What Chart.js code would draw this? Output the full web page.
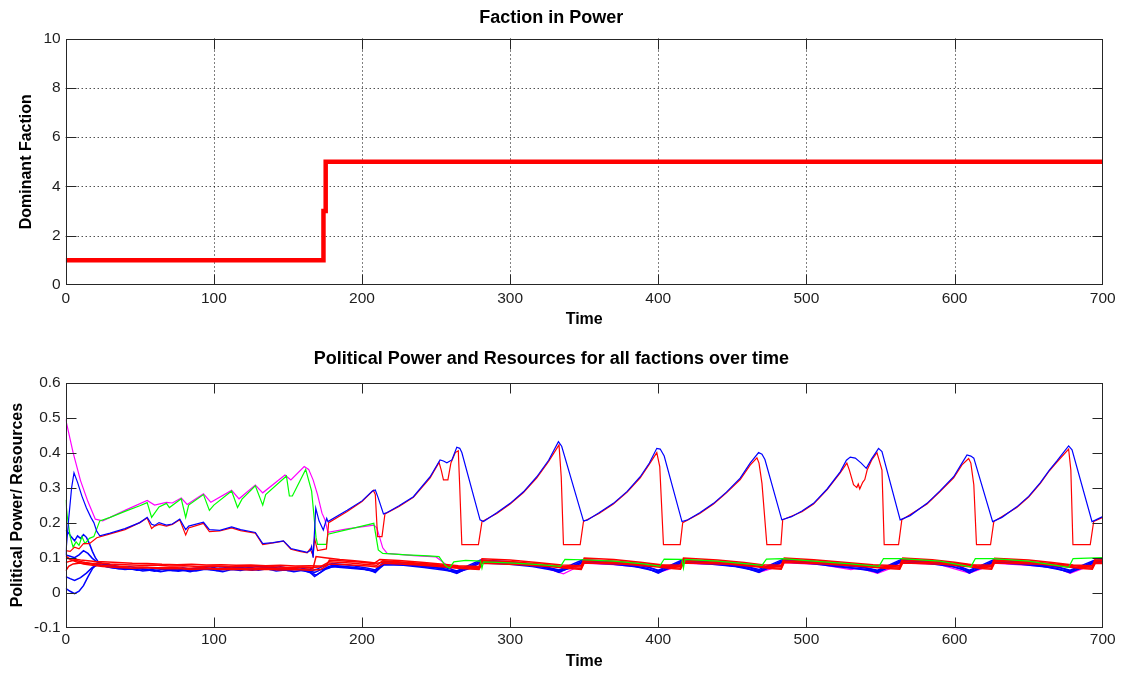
<!DOCTYPE html>
<html>
<head>
<meta charset="utf-8">
<script src="https://cdn.jsdelivr.net/npm/chart.js@4"></script>
<style>
  html, body { margin: 0; padding: 0; background: #fff; }
  body { width: 1123px; height: 675px; position: relative; overflow: hidden; }
  .panel { position: absolute; left: 0; }
</style>
</head>
<body>
<div class="panel" style="top:0"><canvas id="cpower" width="1123" height="340"></canvas></div>
<div class="panel" style="top:340px"><canvas id="cres" width="1123" height="335"></canvas></div>
<script>
// Faction in power over time, [time, faction]
const dominantFaction = [[0, 1], [174, 1], [174, 3], [175.5, 3], [175.5, 5], [700, 5]];

const timeTicks = [0, 100, 200, 300, 400, 500, 600, 700];
const factionTicks = [0, 2, 4, 6, 8, 10];
const resourceTicks = [-0.1, 0, 0.1, 0.2, 0.3, 0.4, 0.5, 0.6];

// Political power / resources per faction, [time, value]
const blueTop = [[0,0.108],[2,0.21],[4,0.3],[5.6,0.342],[8,0.315],[11,0.275],[14,0.242],[17,0.215],[19,0.2],[21,0.175],[23,0.162],[30,0.17],[40,0.183],[50,0.2],[55,0.215],[58,0.195],[60,0.192],[63,0.2],[68,0.193],[72,0.196],[77,0.21],[81,0.18],[83,0.19],[93,0.201],[97,0.18],[104,0.178],[112,0.188],[118,0.18],[128,0.172],[133,0.14],[140,0.143],[147,0.148],[152,0.126],[158,0.12],[163,0.115],[165,0.12],[166,0.132],[167,0.1],[168.8,0.241],[171,0.205],[173.9,0.179],[176.2,0.212],[177,0.203],[190,0.235],[200,0.262],[207,0.29],[209,0.293],[211,0.27],[214.5,0.225],[217,0.229],[225,0.248],[234.7,0.274],[246,0.331],[252.7,0.379],[255,0.376],[257.3,0.371],[260.7,0.379],[264,0.415],[266,0.412],[267.4,0.4],[279.7,0.208],[282,0.203],[291,0.228],[300,0.255],[309,0.288],[318,0.331],[326,0.378],[332.6,0.431],[334.8,0.418],[349.5,0.205],[352,0.207],[360,0.228],[369.7,0.255],[379,0.289],[387.8,0.331],[394,0.37],[399,0.412],[401.3,0.41],[404,0.39],[416,0.203],[420,0.208],[428,0.228],[437.3,0.255],[446,0.287],[455.3,0.327],[462,0.37],[467.7,0.4],[470,0.395],[472,0.38],[483.4,0.208],[490,0.217],[497,0.233],[504.8,0.255],[514,0.296],[522.8,0.345],[527,0.378],[529.6,0.387],[533,0.384],[537,0.37],[540.4,0.355],[544,0.382],[548.7,0.412],[551,0.403],[563.3,0.208],[570,0.22],[581.4,0.255],[590,0.29],[599.4,0.331],[605,0.37],[608.4,0.393],[611,0.39],[613,0.384],[625.7,0.203],[632,0.215],[642,0.245],[650,0.275],[657.9,0.314],[664,0.35],[669.1,0.376],[677,0.419],[679.3,0.408],[692.8,0.203],[695,0.207],[700,0.217]];

const redTop = [[0,0.12],[3,0.118],[6,0.13],[9,0.125],[12,0.14],[16,0.14],[21,0.157],[30,0.168],[40,0.18],[50,0.2],[55,0.213],[58,0.183],[60,0.19],[63,0.195],[68,0.19],[72,0.195],[77,0.208],[81,0.165],[83,0.185],[93,0.198],[97,0.174],[104,0.176],[112,0.185],[118,0.177],[128,0.17],[133,0.137],[140,0.142],[147,0.147],[152,0.124],[158,0.118],[163,0.114],[165,0.125],[167,0.105],[168,0.155],[170,0.12],[176,0.125],[177.5,0.2],[190,0.232],[200,0.26],[207.7,0.292],[209,0.28],[210.5,0.16],[213.5,0.16],[215.5,0.225],[225,0.246],[234.7,0.272],[246,0.328],[252,0.372],[253.5,0.35],[255,0.322],[258,0.322],[260,0.37],[263,0.4],[265,0.405],[266,0.3],[267.4,0.137],[278.6,0.137],[281,0.203],[291,0.226],[300,0.253],[309,0.286],[318,0.328],[326,0.375],[333,0.422],[334.5,0.33],[336,0.137],[347.3,0.137],[349.5,0.203],[360,0.226],[369.7,0.253],[379,0.287],[387.8,0.328],[394,0.367],[399,0.4],[401,0.36],[403.5,0.137],[414.8,0.137],[416.5,0.2],[428,0.226],[437.3,0.253],[446,0.285],[455.3,0.323],[462,0.364],[466.6,0.385],[468,0.37],[470,0.312],[473.3,0.137],[482.8,0.137],[484,0.208],[497,0.231],[504.8,0.253],[514,0.294],[522.8,0.342],[527.3,0.37],[529,0.35],[531.8,0.308],[534,0.3],[535,0.31],[536,0.296],[538,0.315],[539.4,0.323],[541,0.35],[544,0.378],[547.6,0.4],[549,0.38],[551,0.35],[552.5,0.137],[562.2,0.137],[564.4,0.208],[581.4,0.253],[590,0.288],[599.4,0.328],[605,0.365],[609.5,0.383],[611,0.37],[613,0.308],[614.8,0.137],[624.3,0.137],[626.5,0.203],[642,0.243],[650,0.273],[657.9,0.312],[664,0.348],[669.1,0.373],[677,0.41],[678.5,0.35],[679.9,0.137],[691.6,0.137],[693.9,0.203],[700,0.215]];

const greenLine = [[0,0.265],[1,0.22],[3,0.16],[5,0.13],[7,0.145],[9,0.135],[11,0.16],[13,0.14],[16,0.155],[19,0.16],[23,0.205],[30,0.215],[40,0.232],[50,0.248],[55,0.257],[58,0.215],[63,0.245],[68,0.255],[70,0.243],[78,0.268],[81,0.215],[83,0.25],[93,0.28],[97,0.235],[100,0.25],[112,0.29],[116,0.243],[119,0.267],[128,0.305],[133,0.25],[135,0.28],[149,0.333],[151,0.276],[153,0.276],[162,0.352],[166,0.29],[169,0.157],[170,0.138],[176,0.138],[177,0.167],[190,0.18],[200,0.19],[208,0.198],[211,0.122],[214,0.112],[230,0.108],[245,0.105],[252,0.103],[256,0.079],[259,0.07],[262,0.088],[270,0.092],[280,0.09],[281,0.07],[282,0.088],[300,0.085],[320,0.08],[334,0.075],[337,0.095],[349,0.094],[370,0.09],[390,0.082],[401,0.076],[404,0.096],[416,0.095],[417,0.07],[418,0.095],[440,0.09],[460,0.082],[470,0.078],[473,0.096],[484,0.097],[505,0.09],[530,0.082],[549,0.075],[552,0.097],[564,0.097],[590,0.09],[611,0.074],[614,0.097],[626,0.097],[650,0.09],[677,0.072],[680,0.097],[700,0.1]];

const magentaLine = [[0,0.495],[5,0.4],[10,0.32],[15,0.26],[20,0.21],[25,0.205],[40,0.235],[55,0.263],[60,0.25],[68,0.258],[72,0.256],[78,0.27],[82,0.252],[93,0.282],[98,0.258],[112,0.292],[117,0.268],[128,0.307],[133,0.285],[148,0.336],[152,0.322],[161,0.36],[164,0.352],[167,0.322],[170,0.28],[173,0.227],[175,0.208],[177,0.172],[190,0.182],[208,0.193],[210,0.185],[214,0.128],[217,0.112],[235,0.106],[250,0.102],[256,0.083],[262,0.062],[264,0.056],[272,0.07],[280,0.086],[300,0.082],[320,0.075],[333,0.058],[336,0.054],[342,0.066],[349,0.084],[370,0.08],[390,0.072],[400,0.057],[408,0.068],[416,0.084],[440,0.08],[460,0.072],[468,0.058],[476,0.068],[484,0.086],[510,0.08],[530,0.066],[536,0.07],[548,0.055],[556,0.068],[564,0.086],[590,0.08],[610,0.056],[618,0.068],[626,0.084],[650,0.078],[668,0.072],[678,0.055],[686,0.068],[694,0.083],[700,0.085]];

const redLow1 = [[0,0.098],[5,0.096],[10,0.093],[15,0.091],[20,0.089],[25,0.088],[35,0.086],[45,0.084],[55,0.083],[65,0.081],[75,0.08],[85,0.081],[95,0.079],[105,0.08],[115,0.078],[125,0.079],[135,0.077],[145,0.078],[155,0.076],[165,0.077],[170,0.076],[176,0.077],[178,0.093],[190,0.09],[200,0.087],[208,0.083],[212,0.095],[225,0.092],[240,0.087],[255,0.081],[265,0.077],[279,0.075],[281,0.097],[300,0.093],[318,0.086],[335,0.079],[348,0.077],[350,0.099],[370,0.095],[388,0.087],[402,0.08],[415,0.078],[417,0.099],[440,0.093],[458,0.086],[470,0.08],[483,0.078],[485,0.099],[505,0.094],[525,0.087],[545,0.08],[563,0.077],[565,0.099],[585,0.094],[600,0.087],[612,0.08],[625,0.078],[627,0.098],[650,0.093],[666,0.086],[680,0.079],[693,0.077],[695,0.097],[700,0.096]];

const redLow2 = [[0,0.086],[3,0.09],[6,0.093],[9,0.09],[13,0.086],[18,0.083],[24,0.085],[30,0.082],[40,0.08],[50,0.078],[60,0.079],[70,0.076],[80,0.077],[90,0.075],[100,0.076],[110,0.074],[120,0.075],[130,0.073],[140,0.074],[150,0.072],[160,0.073],[166,0.071],[172,0.074],[178,0.088],[192,0.085],[205,0.08],[210,0.078],[214,0.091],[230,0.087],[248,0.081],[262,0.075],[279,0.071],[281,0.092],[302,0.088],[322,0.081],[336,0.075],[348,0.073],[350,0.094],[372,0.09],[392,0.082],[405,0.077],[415,0.074],[417,0.094],[442,0.089],[462,0.081],[472,0.076],[483,0.074],[485,0.095],[508,0.09],[530,0.082],[550,0.076],[563,0.073],[565,0.094],[588,0.089],[605,0.082],[615,0.077],[625,0.074],[627,0.093],[652,0.088],[670,0.081],[683,0.076],[693,0.073],[695,0.092],[700,0.091]];

const redLow3 = [[0,0.062],[2,0.075],[5,0.082],[10,0.085],[15,0.084],[20,0.08],[26,0.078],[34,0.076],[42,0.074],[52,0.073],[62,0.071],[72,0.072],[82,0.07],[92,0.071],[102,0.069],[112,0.07],[122,0.068],[132,0.07],[142,0.068],[152,0.069],[160,0.067],[165,0.068],[167,0.07],[169,0.103],[175,0.1],[185,0.095],[195,0.091],[205,0.087],[210,0.084],[216,0.088],[232,0.084],[250,0.078],[263,0.072],[279,0.068],[281,0.088],[305,0.084],[325,0.077],[338,0.072],[348,0.069],[350,0.089],[375,0.085],[395,0.078],[407,0.073],[415,0.07],[417,0.089],[445,0.085],[465,0.077],[474,0.072],[483,0.07],[485,0.09],[510,0.086],[535,0.078],[552,0.072],[563,0.07],[565,0.089],[590,0.085],[608,0.078],[617,0.073],[625,0.07],[627,0.089],[655,0.085],[673,0.077],[685,0.072],[693,0.07],[695,0.088],[700,0.087]];

const redLow4 = [[0,0.105],[3,0.095],[7,0.088],[12,0.082],[18,0.078],[25,0.075],[35,0.072],[45,0.07],[55,0.071],[65,0.068],[75,0.069],[85,0.066],[95,0.068],[105,0.066],[115,0.067],[125,0.065],[135,0.067],[145,0.065],[155,0.066],[165,0.064],[172,0.066],[178,0.082],[190,0.08],[204,0.076],[210,0.073],[215,0.084],[235,0.08],[252,0.075],[265,0.07],[279,0.066],[281,0.084],[308,0.08],[328,0.074],[340,0.069],[348,0.066],[350,0.085],[378,0.081],[398,0.074],[409,0.069],[415,0.067],[417,0.085],[448,0.081],[466,0.074],[476,0.069],[483,0.067],[485,0.086],[512,0.082],[538,0.075],[555,0.069],[563,0.067],[565,0.085],[592,0.081],[610,0.074],[618,0.069],[625,0.067],[627,0.085],[658,0.081],[675,0.074],[686,0.069],[693,0.067],[695,0.084],[700,0.083]];

const blueLow1 = [[0,0.012],[3,0.004],[6,-0.003],[9,0.004],[12,0.02],[15,0.045],[18,0.068],[21,0.082],[24,0.078],[30,0.072],[36,0.068],[42,0.07],[48,0.064],[54,0.066],[60,0.061],[66,0.067],[72,0.063],[78,0.065],[84,0.06],[90,0.066],[96,0.069],[102,0.063],[108,0.066],[114,0.072],[120,0.067],[126,0.064],[132,0.07],[138,0.066],[144,0.068],[150,0.063],[156,0.066],[162,0.061],[166,0.056],[169,0.05],[172,0.058],[176,0.072],[180,0.078],[190,0.074],[200,0.068],[206,0.063],[209,0.057],[215,0.084],[225,0.082],[240,0.076],[255,0.068],[264,0.055],[272,0.072],[280,0.09],[295,0.086],[310,0.08],[325,0.072],[333,0.058],[341,0.073],[349,0.09],[365,0.086],[380,0.078],[392,0.07],[400,0.056],[408,0.073],[416,0.09],[430,0.086],[445,0.08],[458,0.072],[468,0.058],[476,0.075],[484,0.092],[500,0.087],[515,0.08],[528,0.072],[535,0.068],[542,0.066],[548,0.057],[556,0.075],[564,0.092],[580,0.087],[595,0.078],[605,0.068],[610,0.056],[618,0.073],[626,0.09],[640,0.085],[655,0.078],[668,0.07],[678,0.057],[686,0.073],[694,0.089],[700,0.091]];

const blueLow2 = [[0,0.046],[3,0.04],[6,0.035],[10,0.043],[14,0.056],[18,0.072],[22,0.08],[28,0.074],[34,0.07],[40,0.066],[46,0.068],[52,0.062],[58,0.065],[64,0.06],[70,0.064],[76,0.061],[82,0.065],[88,0.062],[94,0.067],[100,0.064],[106,0.06],[112,0.066],[118,0.063],[124,0.068],[130,0.064],[136,0.068],[142,0.062],[148,0.065],[154,0.06],[160,0.064],[165,0.058],[168,0.046],[171,0.055],[175,0.066],[180,0.074],[192,0.07],[202,0.066],[209,0.06],[215,0.08],[228,0.078],[242,0.072],[256,0.064],[264,0.058],[272,0.068],[280,0.085],[298,0.082],[315,0.075],[333,0.061],[341,0.07],[349,0.086],[368,0.082],[385,0.074],[400,0.06],[408,0.07],[416,0.086],[435,0.082],[452,0.075],[468,0.061],[476,0.072],[484,0.088],[503,0.083],[520,0.075],[532,0.07],[548,0.06],[556,0.072],[564,0.088],[583,0.083],[598,0.075],[610,0.06],[618,0.07],[626,0.086],[645,0.081],[662,0.073],[678,0.06],[686,0.07],[694,0.085],[700,0.087]];

const blueLow3 = [[0,0.108],[3,0.104],[6,0.1],[9,0.108],[12,0.12],[15,0.112],[18,0.098],[21,0.088],[25,0.082],[31,0.079],[37,0.073],[43,0.075],[49,0.07],[55,0.072],[61,0.068],[67,0.07],[73,0.066],[79,0.071],[85,0.067],[91,0.07],[97,0.074],[103,0.069],[109,0.072],[115,0.075],[121,0.07],[127,0.073],[133,0.076],[139,0.071],[145,0.074],[151,0.069],[157,0.072],[163,0.067],[167,0.064],[170,0.068],[174,0.076],[180,0.083],[192,0.078],[204,0.07],[209,0.065],[215,0.088],[230,0.085],[245,0.078],[258,0.07],[264,0.062],[272,0.078],[280,0.093],[300,0.088],[318,0.08],[333,0.065],[341,0.079],[349,0.094],[370,0.088],[388,0.079],[400,0.064],[408,0.078],[416,0.093],[438,0.087],[455,0.079],[468,0.066],[476,0.08],[484,0.095],[505,0.089],[522,0.08],[536,0.074],[548,0.064],[556,0.079],[564,0.095],[585,0.089],[600,0.08],[610,0.064],[618,0.078],[626,0.093],[648,0.087],[665,0.078],[678,0.064],[686,0.078],[694,0.092],[700,0.094]];

const blueLow4 = [[0,0.178],[2,0.17],[4,0.158],[6,0.148],[8,0.162],[10,0.155],[12,0.166],[14,0.158],[16,0.14],[18,0.118],[20,0.1],[22,0.088],[26,0.08],[32,0.075],[38,0.071],[44,0.067],[50,0.07],[56,0.065],[62,0.069],[68,0.064],[74,0.068],[80,0.065],[86,0.069],[92,0.072],[98,0.066],[104,0.07],[110,0.067],[116,0.071],[122,0.074],[128,0.068],[134,0.072],[140,0.069],[146,0.066],[152,0.07],[158,0.066],[164,0.062],[168,0.058],[172,0.065],[176,0.07],[182,0.076],[195,0.072],[209,0.062],[215,0.083],[232,0.08],[250,0.072],[264,0.06],[272,0.074],[280,0.088],[300,0.085],[320,0.077],[333,0.063],[341,0.075],[349,0.089],[372,0.084],[392,0.075],[400,0.062],[408,0.075],[416,0.089],[440,0.083],[460,0.074],[468,0.063],[476,0.077],[484,0.09],[508,0.085],[528,0.076],[540,0.071],[548,0.062],[556,0.076],[564,0.09],[588,0.084],[602,0.076],[610,0.062],[618,0.075],[626,0.088],[650,0.082],[668,0.075],[678,0.062],[686,0.075],[694,0.087],[700,0.089]];

const BLUE = '#0000ff', RED = '#ff0000', GREEN = '#00ff00', MAGENTA = '#ff00ff';
const INK = '#1e1e1e';

Chart.defaults.font.family = "'Liberation Sans', Arial, Helvetica, sans-serif";
Chart.defaults.color = INK;

const pts = arr => arr.map(p => ({ x: p[0], y: p[1] }));

function series(arr, color, width) {
    return {
        data: pts(arr),
        borderColor: color,
        backgroundColor: color,
        borderWidth: width || 1.2,
        pointRadius: 0,
        tension: 0,
        fill: false
    };
}

// matlab style axes: full box, inward ticks on all four sides, optional dotted grid
const boxAxes = {
    id: 'boxAxes',
    beforeDatasetsDraw(chart, args, opts) {
        if (!opts.grid) return;
        const { ctx, chartArea: a, scales } = chart;
        ctx.save();
        ctx.strokeStyle = '#000';
        ctx.lineWidth = 1;
        ctx.setLineDash([1, 3]);
        // inner grid lines only, the box covers the edges
        opts.xTicks.slice(1, -1).forEach(v => {
            const px = Math.round(scales.x.getPixelForValue(v)) + 0.5;
            ctx.beginPath(); ctx.moveTo(px, a.top); ctx.lineTo(px, a.bottom); ctx.stroke();
        });
        opts.yTicks.slice(1, -1).forEach(v => {
            const py = Math.round(scales.y.getPixelForValue(v)) + 0.5;
            ctx.beginPath(); ctx.moveTo(a.left, py); ctx.lineTo(a.right, py); ctx.stroke();
        });
        ctx.restore();
    },
    afterDatasetsDraw(chart, args, opts) {
        const { ctx, chartArea: a, scales } = chart;
        const len = 10;
        ctx.save();
        ctx.strokeStyle = '#262626';
        ctx.lineWidth = 1;
        ctx.setLineDash([]);
        const l = Math.round(a.left) + 0.5, r = Math.round(a.right) - 0.5;
        const t = Math.round(a.top) + 0.5, b = Math.round(a.bottom) - 0.5;
        const clamp = (v, lo, hi) => Math.min(hi, Math.max(lo, v));
        ctx.strokeRect(l, t, r - l, b - t);
        ctx.beginPath();
        opts.xTicks.forEach(v => {
            const px = clamp(Math.round(scales.x.getPixelForValue(v)) + 0.5, l, r);
            ctx.moveTo(px, b); ctx.lineTo(px, b - len);
            ctx.moveTo(px, t); ctx.lineTo(px, t + len);
        });
        opts.yTicks.forEach(v => {
            const py = clamp(Math.round(scales.y.getPixelForValue(v)) + 0.5, t, b);
            ctx.moveTo(l, py); ctx.lineTo(l + len, py);
            ctx.moveTo(r, py); ctx.lineTo(r - len, py);
        });
        ctx.stroke();
        ctx.restore();
    }
};

function axisOpts(p) {
    return {
        responsive: false,
        animation: false,
        events: [],
        layout: { padding: { left: 0, right: 20.3, top: 0, bottom: 0 } },
        plugins: {
            legend: { display: false },
            tooltip: { enabled: false },
            title: {
                display: true,
                text: p.title,
                color: '#000',
                font: { size: 18, weight: 'bold' },
                padding: { top: p.titleTop, bottom: p.titleBottom }
            },
            boxAxes: { xTicks: timeTicks, yTicks: p.yTicks, grid: p.grid }
        },
        scales: {
            x: {
                type: 'linear',
                min: 0,
                max: 700,
                grid: { display: false, drawTicks: false },
                border: { display: false },
                afterBuildTicks: s => { s.ticks = timeTicks.map(v => ({ value: v })); },
                afterFit: s => { s.height = p.xHeight; },
                ticks: { font: { size: 15.5 }, color: INK, padding: p.xTickPad, maxRotation: 0 },
                title: {
                    display: true,
                    text: 'Time',
                    color: '#000',
                    font: { size: 16, weight: 'bold' },
                    padding: { top: 0, bottom: p.xTitlePad }
                }
            },
            y: {
                type: 'linear',
                min: p.yMin,
                max: p.yMax,
                grid: { display: false, drawTicks: false },
                border: { display: false },
                afterBuildTicks: s => { s.ticks = p.yTicks.map(v => ({ value: v })); },
                afterFit: s => { s.width = 65.7; },
                ticks: { font: { size: 15.5 }, color: INK, padding: 5 },
                title: {
                    display: true,
                    text: p.yTitle,
                    color: '#000',
                    font: { size: 16, weight: 'bold' },
                    padding: { top: p.yTitlePad, bottom: 0 }
                }
            }
        }
    };
}

// Panel 1: dominant faction
new Chart(document.getElementById('cpower').getContext('2d'), {
    type: 'line',
    data: { datasets: [series(dominantFaction, RED, 4.5)] },
    options: axisOpts({
        title: 'Faction in Power', titleTop: 7.7, titleBottom: 9.2,
        yTitle: 'Dominant Faction', yTitlePad: 17.1,
        yMin: 0, yMax: 10, yTicks: factionTicks, grid: true,
        xHeight: 55, xTickPad: 4, xTitlePad: 10.4
    }),
    plugins: [boxAxes]
});

// Panel 2: power and resources of every faction (first dataset is drawn on top)
new Chart(document.getElementById('cres').getContext('2d'), {
    type: 'line',
    data: {
        datasets: [
            series(blueTop, BLUE),
            series(redTop, RED),
            series(greenLine, GREEN),
            series(redLow1, RED, 1.5),
            series(redLow2, RED, 1.5),
            series(redLow3, RED, 1.5),
            series(redLow4, RED, 1.5),
            series(blueLow1, BLUE, 1.5),
            series(blueLow2, BLUE, 1.5),
            series(blueLow3, BLUE, 1.5),
            series(blueLow4, BLUE, 1.5),
            series(magentaLine, MAGENTA)
        ]
    },
    options: axisOpts({
        title: 'Political Power and Resources for all factions over time', titleTop: 8.7, titleBottom: 12.2,
        yTitle: 'Political Power/ Resources', yTitlePad: 7.9,
        yMin: -0.1, yMax: 0.6, yTicks: resourceTicks, grid: false,
        xHeight: 47.3, xTickPad: 3, xTitlePad: 3.9
    }),
    plugins: [boxAxes]
});
</script>
</body>
</html>
